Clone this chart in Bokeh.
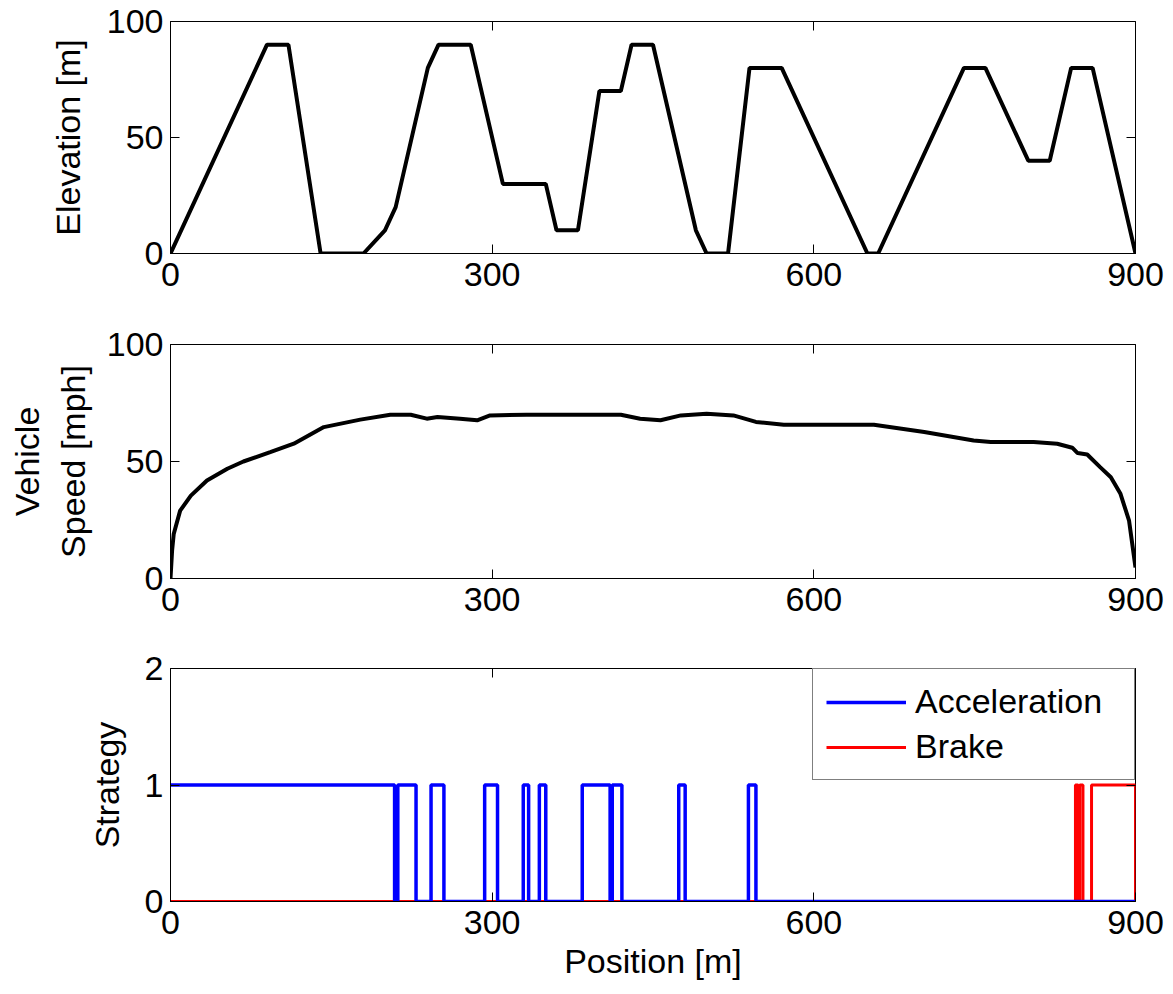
from bokeh.plotting import figure
from bokeh.layouts import column
from bokeh.models import Range1d, FixedTicker, LinearAxis, Legend, LegendItem
from bokeh.embed import file_html
from bokeh.resources import INLINE

# ---------------- data ----------------
elev_pos = [0, 90, 110, 140, 180, 200, 210, 240, 250, 280, 310, 350, 360, 380, 400, 420,
            430, 450, 490, 500, 520, 540, 570, 650, 660, 740, 760, 800, 820, 840, 860, 900]
elev_val = [0, 90, 90, 0, 0, 10, 20, 80, 90, 90, 30, 30, 10, 10, 70, 70,
            90, 90, 10, 0, 0, 80, 80, 0, 0, 80, 80, 40, 40, 80, 80, 0]

speed_pos = [0, 1.5, 3, 9, 19, 34, 53, 68, 93, 115, 143, 177, 205, 224, 239, 249, 270, 286,
             298, 332, 364, 420, 438, 457, 476, 500, 525, 546, 572, 656, 703, 749, 765, 805,
             827, 841, 846, 855, 867, 877, 886, 894, 900]
speed_val = [0, 12, 19, 29, 35.4, 41.9, 46.9, 50, 54, 57.6, 64.7, 67.9, 70, 70, 68.3, 69, 68.3, 67.6,
             69.7, 70, 70, 70, 68.3, 67.6, 69.7, 70.4, 69.7, 66.9, 65.7, 65.7, 62.6, 59, 58.3, 58.3,
             57.6, 55.9, 53.6, 53, 47.6, 43.3, 36.2, 24.7, 4.7]

accel_pos = [0, 209, 212, 229, 243, 255, 293, 305, 329, 334, 344, 350, 384, 410, 412, 421, 474, 480, 539, 546, 900]
accel_val = [1, 0, 1, 0, 1, 0, 1, 0, 1, 0, 1, 0, 1, 0, 1, 0, 1, 0, 1, 0, 0]

brake_pos = [0, 844, 846.5, 848, 851, 859, 900]
brake_val = [0, 1, 0, 1, 0, 1, 0]

x_ticks = [0, 300, 600, 900]
elev_ticks = [0, 50, 100]
speed_ticks = [0, 50, 100]
strat_ticks = [0, 1, 2]

FONT = "Liberation Sans"
TICK_FS = "34px"
LABEL_FS = "34px"
LEGEND_FS = "34px"


def make_fig(height, top, bottom, ymax, yticks, ylabel, label_standoff, xlabel=None):
    p = figure(width=1173, height=height, output_backend="svg", toolbar_location=None,
               x_range=Range1d(0, 900), y_range=Range1d(0, ymax),
               min_border_left=170, min_border_right=38,
               min_border_top=top, min_border_bottom=bottom)
    p.xgrid.visible = False
    p.ygrid.visible = False
    p.outline_line_color = "black"
    p.outline_line_width = 1
    p.background_fill_color = "white"
    p.border_fill_color = "white"
    for ax, ticks in ((p.xaxis[0], x_ticks), (p.yaxis[0], yticks)):
        ax.ticker = FixedTicker(ticks=ticks)
        ax.major_tick_in = 9
        ax.major_tick_out = 0
        ax.minor_tick_line_color = None
        ax.axis_line_color = "black"
        ax.major_tick_line_color = "black"
        ax.major_label_text_font = FONT
        ax.major_label_text_font_size = TICK_FS
        ax.major_label_text_color = "black"
        ax.axis_label_text_font = FONT
        ax.axis_label_text_font_size = LABEL_FS
        ax.axis_label_text_font_style = "normal"
        ax.axis_label_text_color = "black"
    p.xaxis[0].major_label_standoff = 9
    p.yaxis[0].major_label_standoff = 7
    p.yaxis[0].axis_label = ylabel
    p.yaxis[0].axis_label_standoff = label_standoff
    if xlabel:
        p.xaxis[0].axis_label = xlabel
        p.xaxis[0].axis_label_standoff = 5
    # mirrored ticks on top and right (drawn as minor ticks, no labels)
    for loc, ticks in (("above", x_ticks), ("right", yticks)):
        a = LinearAxis(ticker=FixedTicker(ticks=[], minor_ticks=ticks),
                       minor_tick_in=9, minor_tick_out=0,
                       minor_tick_line_color="black", major_tick_line_color=None,
                       axis_line_color=None, major_label_standoff=0)
        p.add_layout(a, loc)
    return p


p1 = make_fig(323, 21, 70, 100, elev_ticks, "Elevation [m]", 17)
p1.line(elev_pos, elev_val, line_color="black", line_width=4)

p2 = make_fig(325, 21, 70, 100, speed_ticks, "Vehicle\nSpeed [mph]", 12)
p2.line(speed_pos, speed_val, line_color="black", line_width=4)

p3 = make_fig(346, 20, 93, 2, strat_ticks, "Strategy", 16, xlabel="Position [m]")
r_brake = p3.step(brake_pos, brake_val, mode="after", line_color="red", line_width=3)
r_accel = p3.step(accel_pos, accel_val, mode="after", line_color="blue", line_width=3.5)

legend = Legend(items=[LegendItem(label="Acceleration", renderers=[r_accel]),
                       LegendItem(label="Brake", renderers=[r_brake])],
                location="top_right", margin=0, padding=13, spacing=6,
                label_height=36, glyph_height=36, glyph_width=80, label_standoff=9,
                label_width=206,
                label_text_font=FONT, label_text_font_size=LEGEND_FS, label_text_color="black",
                border_line_color="black", border_line_width=1,
                background_fill_color="white", background_fill_alpha=1)
p3.add_layout(legend)

layout = column(p1, p2, p3, spacing=0)
open("out.html", "w").write(file_html(layout, INLINE))
